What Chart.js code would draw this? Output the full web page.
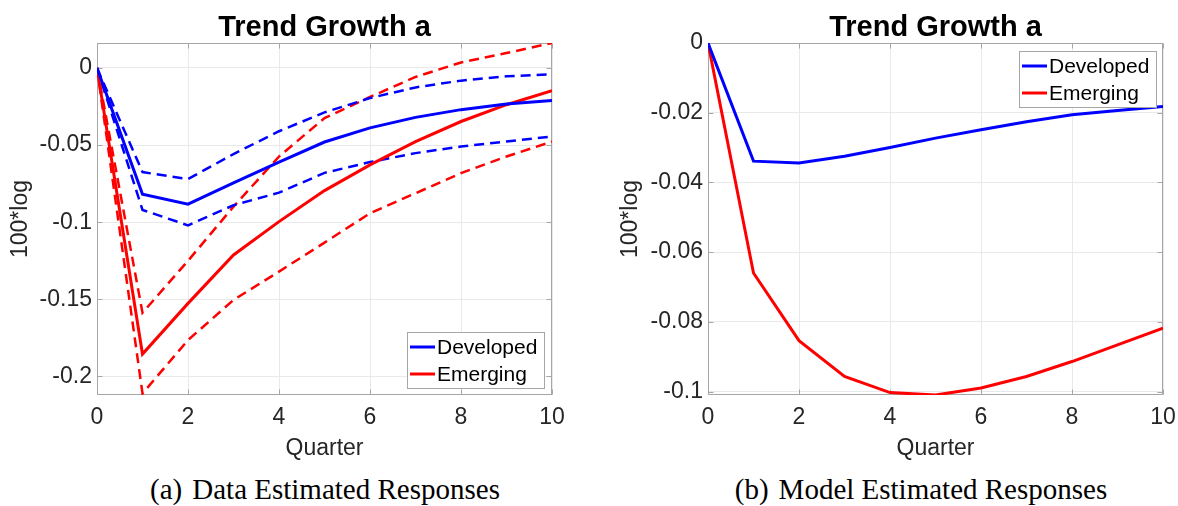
<!DOCTYPE html>
<html>
<head>
<meta charset="utf-8">
<script src="https://cdn.jsdelivr.net/npm/chart.js@4"></script>
<style>
  html, body { margin: 0; padding: 0; background: #fff; }
  #wrap { position: relative; width: 1178px; height: 506px; overflow: hidden; background: #fff; }
  canvas { position: absolute; top: 0; }
  .title { position: absolute; top: 9px; font: bold 29px "Liberation Sans", Arial, sans-serif; line-height: 34px;
           color: #000; white-space: nowrap; transform: translateX(-50%); }
  .cap { position: absolute; top: 472px; font: 29px "Liberation Serif", "Times New Roman", serif; line-height: 34px;
         color: #000; white-space: nowrap; transform: translateX(-50%); }
  .cap .tag { margin-right: 10px; }
</style>
</head>
<body>
<div id="wrap">
  <canvas id="chartA" width="590" height="470" style="left:0px"></canvas>
  <canvas id="chartB" width="588" height="470" style="left:590px"></canvas>
  <div class="title" style="left:324.5px">Trend Growth a</div>
  <div class="title" style="left:935.5px">Trend Growth a</div>
  <div class="cap" style="left:325px"><span class="tag">(a)</span>Data Estimated Responses</div>
  <div class="cap" style="left:921px"><span class="tag">(b)</span>Model Estimated Responses</div>
</div>
<script>
// Impulse responses of trend growth, in quarters after the shock
const quarters = [0, 1, 2, 3, 4, 5, 6, 7, 8, 9, 10];

// (a) data-estimated responses with confidence bands
const devData      = [0, -0.0818, -0.0883, -0.0745, -0.0610, -0.0480, -0.0388, -0.0320, -0.0270, -0.0234, -0.0210];
const devDataUpper = [0, -0.0675, -0.0720, -0.0558, -0.0410, -0.0288, -0.0195, -0.0126, -0.0082, -0.0054, -0.0041];
const devDataLower = [0, -0.0920, -0.1020, -0.0890, -0.0808, -0.0680, -0.0610, -0.0552, -0.0509, -0.0476, -0.0444];
const emgData      = [0, -0.1855, -0.1526, -0.1212, -0.0996, -0.0795, -0.0628, -0.0477, -0.0347, -0.0238, -0.0147];
const emgDataUpper = [0, -0.1587, -0.1250, -0.0899, -0.0574, -0.0325, -0.0188, -0.0058, 0.0036, 0.0097, 0.0162];
const emgDataLower = [0, -0.2110, -0.1764, -0.1504, -0.1320, -0.1132, -0.0942, -0.0812, -0.0682, -0.0574, -0.0477];

// (b) model-estimated responses
const devModel = [0, -0.0339, -0.0344, -0.0325, -0.0300, -0.0273, -0.0249, -0.0226, -0.0206, -0.0194, -0.0182];
const emgModel = [0, -0.0660, -0.0854, -0.0957, -0.1003, -0.1010, -0.0990, -0.0957, -0.0914, -0.0866, -0.0818];

// Axis ticks and labels
const xTicks = [0, 2, 4, 6, 8, 10];
const yTicksA = [0, -0.05, -0.1, -0.15, -0.2];
const yTickLabelsA = ['0', '-0.05', '-0.1', '-0.15', '-0.2'];
const yTicksB = [0, -0.02, -0.04, -0.06, -0.08, -0.1];
const yTickLabelsB = ['0', '-0.02', '-0.04', '-0.06', '-0.08', '-0.1'];

const BLUE = '#0000ff';
const RED = '#ff0000';
const AXIS_GRAY = '#a6a6a6';
const GRID_GRAY = '#e9e9e9';
const TEXT_DARK = '#262626';

Chart.defaults.font.family = '"Liberation Sans", Arial, sans-serif';
Chart.defaults.color = TEXT_DARK;

const toPoints = (ys) => ys.map((y, i) => ({ x: quarters[i], y }));

function solid(label, ys, color) {
  return { label, data: toPoints(ys), borderColor: color, backgroundColor: color, borderWidth: 3,
           pointRadius: 0, tension: 0, fill: false, inLegend: true };
}
function dashed(label, ys, color) {
  return { label, data: toPoints(ys), borderColor: color, backgroundColor: color, borderWidth: 2.5,
           borderDash: [10, 6], pointRadius: 0, tension: 0, fill: false, inLegend: false };
}

// Axes box with inward tick marks, drawn under the lines
const axesBox = {
  id: 'axesBox',
  beforeDatasetsDraw(chart) {
    const { ctx, chartArea: a, scales } = chart;
    ctx.save();
    ctx.strokeStyle = AXIS_GRAY;
    ctx.lineWidth = 1;
    const L = Math.round(a.left) + 0.5, R = Math.round(a.right) - 0.5;
    const T = Math.round(a.top) + 0.5, B = Math.round(a.bottom) - 0.5;
    ctx.strokeRect(L, T, R - L, B - T);
    ctx.beginPath();
    scales.x.ticks.forEach(t => {
      const px = Math.round(scales.x.getPixelForValue(t.value)) + 0.5;
      ctx.moveTo(px, B); ctx.lineTo(px, B - 5);
      ctx.moveTo(px, T); ctx.lineTo(px, T + 5);
    });
    scales.y.ticks.forEach(t => {
      const py = Math.round(scales.y.getPixelForValue(t.value)) + 0.5;
      ctx.moveTo(L, py); ctx.lineTo(L + 5, py);
      ctx.moveTo(R, py); ctx.lineTo(R - 5, py);
    });
    ctx.stroke();
    ctx.restore();
  }
};

// Boxed legend inside the axes
const boxLegend = {
  id: 'boxLegend',
  afterDatasetsDraw(chart, args, opts) {
    const { ctx, chartArea: a } = chart;
    const items = chart.data.datasets.filter(d => d.inLegend);
    const w = 137, h = 56;
    const x0 = opts.corner === 'br' ? a.right - 8 - w : a.right - 7 - w;
    const y0 = opts.corner === 'br' ? a.bottom - 7 - h : a.top + 8;
    ctx.save();
    ctx.fillStyle = '#ffffff';
    ctx.fillRect(x0, y0, w, h);
    ctx.strokeStyle = AXIS_GRAY;
    ctx.lineWidth = 1;
    ctx.strokeRect(Math.round(x0) + 0.5, Math.round(y0) + 0.5, w, h);
    ctx.font = '21px "Liberation Sans", Arial, sans-serif';
    ctx.textBaseline = 'middle';
    ctx.textAlign = 'left';
    items.forEach((d, i) => {
      const yy = y0 + 15 + i * 27;
      ctx.strokeStyle = d.borderColor;
      ctx.lineWidth = 3;
      ctx.beginPath();
      ctx.moveTo(x0 + 3, yy); ctx.lineTo(x0 + 28, yy);
      ctx.stroke();
      ctx.fillStyle = '#000';
      ctx.fillText(d.label, x0 + 30, yy + 1);
    });
    ctx.restore();
  }
};

function makeChart(id, datasets, yMin, yMax, yTicks, yLabels, axisWidth, padRight, yTitlePad, legendCorner) {
  return new Chart(document.getElementById(id), {
    type: 'line',
    data: { datasets },
    options: {
      responsive: false,
      animation: false,
      events: [],
      layout: { padding: { top: 43, right: padRight, bottom: 0, left: 0 } },
      plugins: {
        legend: { display: false },
        title: { display: false },
        tooltip: { enabled: false },
        boxLegend: { corner: legendCorner }
      },
      scales: {
        x: {
          type: 'linear', min: 0, max: 10,
          afterBuildTicks: s => { s.ticks = xTicks.map(v => ({ value: v })); },
          afterFit: s => { s.height = 75; s.paddingLeft = 0; s.paddingRight = 0; },
          grid: { color: GRID_GRAY, drawTicks: false, lineWidth: 1 },
          border: { display: false },
          ticks: { font: { size: 23 }, color: TEXT_DARK, padding: 9, maxRotation: 0,
                   callback: v => String(v) },
          title: { display: true, text: 'Quarter', font: { size: 23 }, color: TEXT_DARK,
                   padding: { top: 0, bottom: 8 } }
        },
        y: {
          type: 'linear', min: yMin, max: yMax,
          afterBuildTicks: s => { s.ticks = yTicks.map(v => ({ value: v })); },
          afterFit: s => { s.width = axisWidth; s.paddingTop = 0; s.paddingBottom = 0; },
          grid: { color: GRID_GRAY, drawTicks: false, lineWidth: 1 },
          border: { display: false },
          ticks: { font: { size: 23 }, color: TEXT_DARK, padding: 5,
                   callback: v => { const k = yTicks.findIndex(t => Math.abs(t - v) < 1e-9); return k >= 0 ? yLabels[k] : ''; } },
          title: { display: true, text: '100*log', font: { size: 23 }, color: TEXT_DARK,
                   padding: { top: yTitlePad, bottom: 0 } }
        }
      }
    },
    plugins: [axesBox, boxLegend]
  });
}

makeChart('chartA', [
  solid('Developed', devData, BLUE),
  solid('Emerging', emgData, RED),
  dashed('Developed upper', devDataUpper, BLUE),
  dashed('Developed lower', devDataLower, BLUE),
  dashed('Emerging upper', emgDataUpper, RED),
  dashed('Emerging lower', emgDataLower, RED)
], -0.212, 0.0162, yTicksA, yTickLabelsA, 97, 38, 7, 'br');

makeChart('chartB', [
  solid('Developed', devModel, BLUE),
  solid('Emerging', emgModel, RED)
], -0.101, 0, yTicksB, yTickLabelsB, 118, 15, 27, 'tr');
</script>
</body>
</html>
